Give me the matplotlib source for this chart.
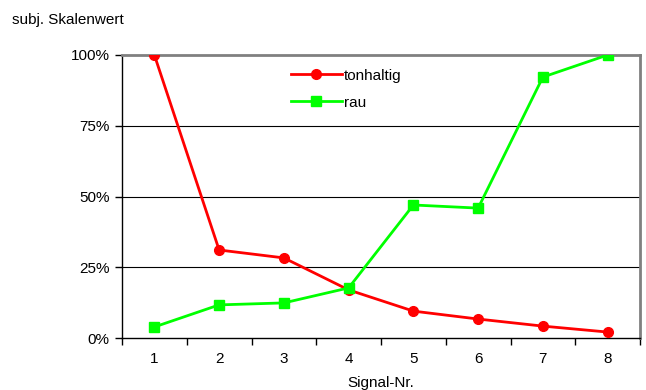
import matplotlib.pyplot as plt
import numpy as np

plt.rcParams['font.family'] = ['Liberation Sans', 'DejaVu Sans']

signale = [1, 2, 3, 4, 5, 6, 7, 8]
tonhaltig = [100, 31.1, 28.3, 17.0, 9.5, 6.7, 4.2, 2.1]
rau = [3.9, 11.7, 12.4, 17.7, 47.0, 45.9, 92.2, 100]
y_ticks = [0, 25, 50, 75, 100]

fs = 11

fig = plt.figure(figsize=(6.46, 3.9), dpi=100)
ax = fig.add_axes([122 / 646, 1 - 338 / 390, 518 / 646, 283 / 390])

for y in y_ticks[1:-1]:
    ax.axhline(y, color='black', linewidth=0.8, zorder=1)

l1, = ax.plot(signale, tonhaltig, color='#ff0000', linewidth=2,
              marker='o', markersize=7, label='tonhaltig', zorder=3)
l2, = ax.plot(signale, rau, color='#00ff00', linewidth=2,
              marker='s', markersize=7, label='rau', zorder=3)

ax.set_xlim(0.5, 8.5)
ax.set_ylim(0, 100)
ax.set_yticks(y_ticks)
ax.set_yticklabels([f'{v}%' for v in y_ticks], fontsize=fs)
ax.set_xticks(signale)
ax.set_xticklabels([str(s) for s in signale], fontsize=fs)
ax.set_xticks(np.arange(0.5, 9, 1), minor=True)
ax.tick_params(axis='x', which='major', length=0, pad=10)
ax.tick_params(axis='x', which='minor', length=5, direction='out', width=1)
ax.tick_params(axis='y', length=5, direction='out', width=1, pad=4)

for side in ['top', 'right']:
    ax.spines[side].set_color('#808080')
    ax.spines[side].set_linewidth(2)
for side in ['left', 'bottom']:
    ax.spines[side].set_color('black')
    ax.spines[side].set_linewidth(1)

ax.set_xlabel('Signal-Nr.', fontsize=fs, labelpad=7)
fig.text(12 / 646, 1 - 20 / 390, 'subj. Skalenwert', fontsize=fs, va='center')

ax.legend(handles=[l1, l2], loc='upper left', bbox_to_anchor=(0.3, 1.0),
          frameon=False, fontsize=fs, handlelength=3.3, handletextpad=0.15,
          labelspacing=0.85)

fig.savefig('out.png', dpi=100)
